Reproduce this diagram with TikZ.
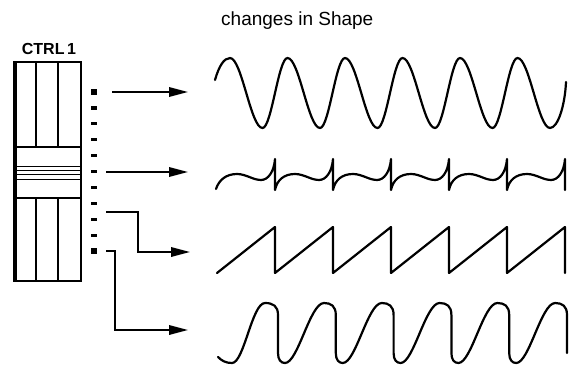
\documentclass[tikz,border=0pt]{standalone}
\usepackage{fontspec}
\setmainfont{Liberation Sans}
\usetikzlibrary{arrows.meta}
\begin{document}
\begin{tikzpicture}[x=1pt,y=-1pt,
  wave/.style={line width=2.2pt, line join=round, line cap=round},
  frame/.style={line width=1.6pt},
  conn/.style={line width=1.8pt, -{Triangle[length=19pt,width=9.5pt]}},
  tick/.style={fill=black, inner sep=0pt, minimum width=6pt, minimum height=3.2pt},
  bigtick/.style={tick, minimum height=5.5pt}]
\useasboundingbox (0,0) rectangle (579,370);
% titles
\node[font=\fontsize{19}{22}\selectfont, anchor=base west, inner sep=0pt] (title) at (221,25) {changes in Shape};
\node[font=\bfseries\fontsize{16}{19}\selectfont, anchor=base, inner sep=0pt] (ctrl) at (49,54) {CTRL\,1};
% fader
\draw[frame] (14,62) rectangle (81,281);
\draw[line width=3pt] (15,62) -- (15,281);
\draw[frame] (36,62) -- (36,147) (58,62) -- (58,147) (36,198) -- (36,281) (58,198) -- (58,281);
\draw[frame] (14,147) rectangle (81,198);
\draw[line width=1.6pt] (14,166.5) -- (81,166.5) (14,179.5) -- (81,179.5);
\draw[line width=1pt] (14,170.5) -- (81,170.5) (14,174.5) -- (81,174.5);
% ticks
\node[bigtick] (t0) at (93.5,92) {};
\foreach \i in {1,...,9} \node[tick] (t\i) at (93.5,{92+15.9*\i}) {};
\node[bigtick] (t10) at (93.5,251) {};
% connectors
\coordinate (a1) at (112,92);  \coordinate (b1) at (188,92);
\coordinate (a2) at (106,172); \coordinate (b2) at (188,172);
\coordinate (a3) at (106,212); \coordinate (b3) at (190,252);
\coordinate (a4) at (106,251); \coordinate (b4) at (188,330);
\draw[conn] (a1) -- (b1);
\draw[conn] (a2) -- (b2);
\draw[conn] (a3) -- ++(32,0) |- (b3);
\draw[conn] (a4) -- ++(9,0) |- (b4);
% wave 1: sine
\draw[wave] (215,80) .. controls (219,66) and (224,58) .. (230,58)
  foreach \k in {0,...,4} {
    .. controls ({241.8+57.5*\k},58) and ({250.7+57.5*\k},128) .. ({262.5+57.5*\k},128)
    .. controls ({271.6+57.5*\k},128) and ({278.4+57.5*\k},58) .. ({287.5+57.5*\k},58) }
  .. controls (529.3,58) and (538.2,128) .. (550,128)
  .. controls (558,128) and (565,105) .. (566,82);
% wave 2: spikes
\draw[wave] (216,189)
  foreach \k in {0,...,5} {
    .. controls ({219+58*\k},180) and ({226+58*\k},174) .. ({237+58*\k},174)
    .. controls ({246+58*\k},174) and ({253+58*\k},180) .. ({261+58*\k},180)
    .. controls ({268+58*\k},180) and ({274+58*\k},172) .. ({275+58*\k},159)
    -- ({275+58*\k},190) };
% wave 3: sawtooth
\draw[wave] (217,273)
  foreach \k in {0,...,5} { -- ({275+58*\k},227) -- ({275+58*\k},273) };
% wave 4
\draw[wave] (218,357) .. controls (222,361) and (226,363) .. (232,363)
  .. controls (244,363) and (252,303) .. (265,303)
  .. controls (273,303) and (278,306) .. (278,315) -- (278,353)
  foreach \k in {0,...,4} {
    .. controls ({278+57.8*\k},360) and ({281+57.8*\k},363) .. ({285+57.8*\k},363)
    .. controls ({298+57.8*\k},363) and ({310+57.8*\k},303) .. ({324+57.8*\k},303)
    .. controls ({331+57.8*\k},303) and ({335.8+57.8*\k},306) .. ({335.8+57.8*\k},315)
    -- ({335.8+57.8*\k},353) };
\end{tikzpicture}
\end{document}
